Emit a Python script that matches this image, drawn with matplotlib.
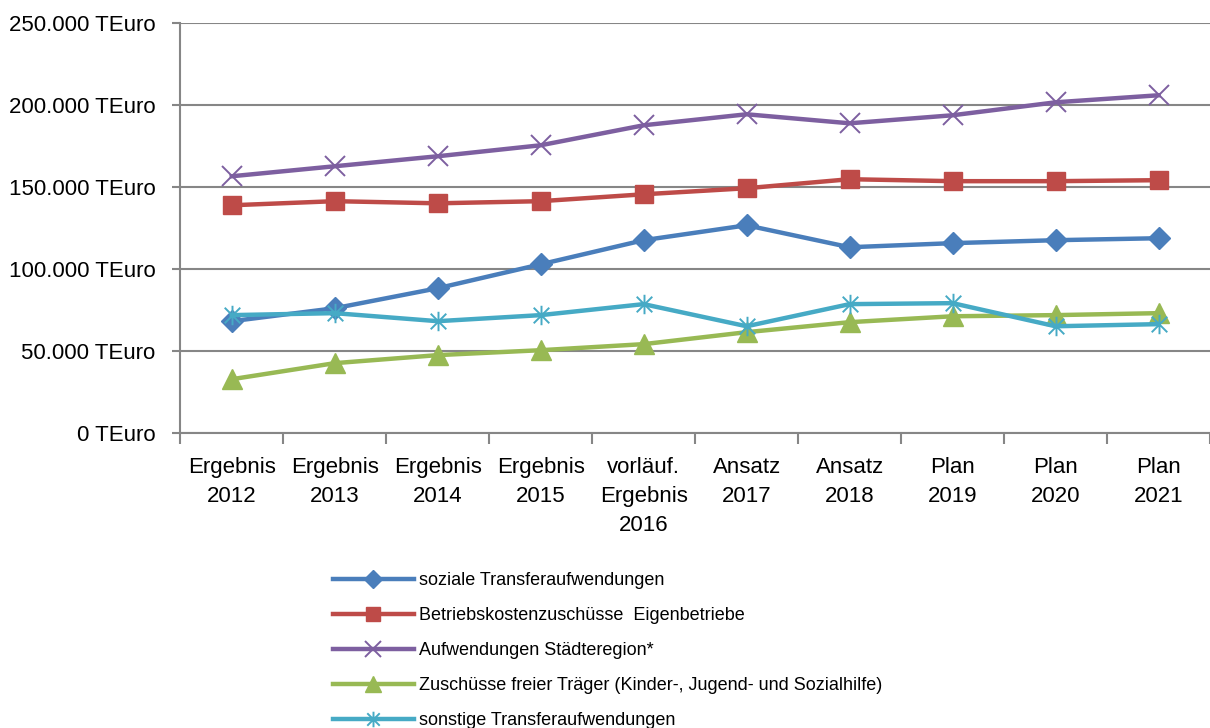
import numpy as np
import matplotlib
matplotlib.use("Agg")
import matplotlib.pyplot as plt
from matplotlib.path import Path
from matplotlib.ticker import FuncFormatter

plt.rcParams["font.family"] = ["Liberation Sans", "DejaVu Sans"]

categories = ["Ergebnis\n2012", "Ergebnis\n2013", "Ergebnis\n2014", "Ergebnis\n2015",
              "vorläuf.\nErgebnis\n2016", "Ansatz\n2017", "Ansatz\n2018",
              "Plan\n2019", "Plan\n2020", "Plan\n2021"]
soziale = [68300, 76200, 88400, 103000, 117700, 126800, 113400, 115900, 117700, 118900]
betrieb = [139000, 141500, 140200, 141500, 145700, 149400, 154900, 153700, 153700, 154300]
staedte = [156700, 162800, 168900, 175600, 187800, 194500, 189000, 193900, 201800, 206100]
zuschuss = [32900, 42700, 47600, 50600, 54300, 61600, 67700, 71300, 72000, 73200]
sonstige = [72000, 73200, 68300, 72000, 78700, 65200, 78700, 79300, 65200, 66500]
labels = ["soziale Transferaufwendungen",
          "Betriebskostenzuschüsse  Eigenbetriebe",
          "Aufwendungen Städteregion*",
          "Zuschüsse freier Träger (Kinder-, Jugend- und Sozialhilfe)",
          "sonstige Transferaufwendungen"]

# excel-style asterisk: vertical bar plus an x
star = Path([(0, -1), (0, 1), (-0.8, -0.8), (0.8, 0.8), (-0.8, 0.8), (0.8, -0.8)],
            [Path.MOVETO, Path.LINETO, Path.MOVETO, Path.LINETO, Path.MOVETO, Path.LINETO])

fig = plt.figure(figsize=(12.1, 7.28), dpi=100)
ax = fig.add_axes([0.149, 0.405, 0.851, 0.563])
x = np.arange(len(categories))

ax.plot(x, soziale, color="#4a7ebb", lw=3.2, marker="D", ms=11, mec="#4a7ebb", label=labels[0])
ax.plot(x, betrieb, color="#be4b48", lw=3.2, marker="s", ms=13, mec="#be4b48", label=labels[1])
ax.plot(x, staedte, color="#7d5fa0", lw=3.2, marker="x", ms=14, mew=1.4, label=labels[2])
ax.plot(x, zuschuss, color="#98b954", lw=3.2, marker="^", ms=14, mec="#98b954", label=labels[3])
ax.plot(x, sonstige, color="#46aac5", lw=3.2, marker=star, ms=14, mew=1.4, label=labels[4])

ax.set_xlim(-0.5, 9.5)
ax.set_ylim(0, 250000)
ax.set_yticks(np.arange(0, 250001, 50000))
ax.yaxis.set_major_formatter(FuncFormatter(lambda v, p: f"{int(v):,}".replace(",", ".") + " TEuro"))
ax.set_xticks(x)
ax.set_xticklabels(categories, fontsize=16, linespacing=1.5)
ax.set_xticks(np.arange(-0.5, 9.6, 1), minor=True)
ax.tick_params(axis="x", which="major", length=0, pad=17)
ax.tick_params(axis="x", which="minor", length=8, width=1.5, color="#868686", direction="out")
ax.tick_params(axis="y", length=6, width=1.5, color="#868686", labelsize=16, pad=12)
ax.grid(axis="y", color="#868686", lw=1.5)
ax.set_axisbelow(True)
for s in ["top", "right"]:
    ax.spines[s].set_visible(False)
for s in ["left", "bottom"]:
    ax.spines[s].set_color("#868686")
    ax.spines[s].set_linewidth(1.5)

fig.legend(loc="upper left", bbox_to_anchor=(0.275, 0.214), frameon=False, fontsize=13,
           numpoints=1, markerscale=0.8, handlelength=4.5, handletextpad=0.28,
           labelspacing=1.0, borderaxespad=0, borderpad=0)

fig.savefig("out.png", dpi=100, facecolor="white")
